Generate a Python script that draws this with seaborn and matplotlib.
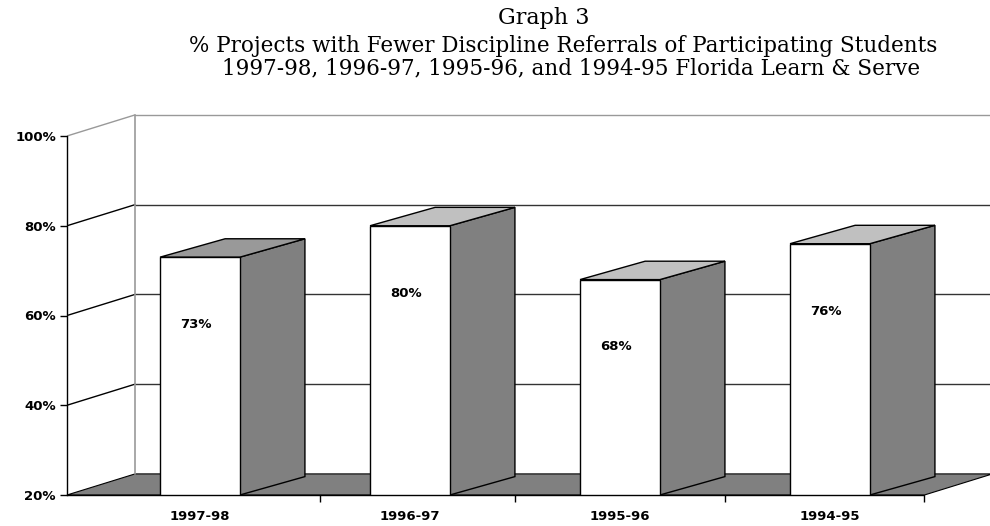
import numpy as np
import pandas as pd
import matplotlib
matplotlib.use("Agg")
import matplotlib.pyplot as plt
from matplotlib.patches import Polygon
import seaborn as sns

# data
years = ["1997-98", "1996-97", "1995-96", "1994-95"]
pct = [73, 80, 68, 76]
bar_labels = ["73%", "80%", "68%", "76%"]
ytick_vals = [20, 40, 60, 80, 100]
ytick_labels = ["20%", "40%", "60%", "80%", "100%"]

df = pd.DataFrame({"year": years, "pct": pct})

sns.set_style("white")
plt.rcParams["font.family"] = ["DejaVu Sans"]
plt.rcParams["text.color"] = "black"
plt.rcParams["xtick.color"] = "black"
plt.rcParams["ytick.color"] = "black"

fig = plt.figure(figsize=(9.9, 5.26), dpi=100)
ax = fig.add_axes([67 / 990, 31 / 526, 923 / 990, 395 / 526])

x0, x1 = -0.633, -0.633 + 923 / 210
y0, y1 = 20, 20 + 395 / 4.4875

# depth offsets (oblique projection)
wdx, wdy = 0.324, 4.7   # walls / floor
bdx, bdy = 0.31, 4.1    # bars
bw = 0.38
floor_right = 3.45

# front faces with seaborn
sns.barplot(data=df, x="year", y="pct", color="white", width=bw, edgecolor="black",
            linewidth=1.0, saturation=1, ax=ax, zorder=3)
for bar in ax.patches:
    bar.set_zorder(3)

ax.set_xlim(x0, x1)
ax.set_ylim(y0, y1)

# floor
floor = Polygon([(x0, y0), (floor_right, y0), (floor_right + wdx, y0 + wdy), (x0 + wdx, y0 + wdy)],
                closed=True, facecolor="#808080", edgecolor="black", lw=0.8, zorder=1, clip_on=False)
ax.add_patch(floor)

# side wall + back wall grid lines
for v in ytick_vals[1:]:
    c = "#999999" if v == 100 else "black"
    ax.plot([x0, x0 + wdx], [v, v + wdy], color=c, lw=1.0, zorder=1.5)
    ax.plot([x0 + wdx, x1], [v + wdy, v + wdy], color="#999999" if v == 100 else "#333333",
            lw=1.0, zorder=1.5)
ax.plot([x0 + wdx, x0 + wdx], [y0 + wdy, 100 + wdy], color="#999999", lw=1.2, zorder=1.5)

# side and top faces
for i, v in enumerate(pct):
    left, right = i - bw / 2, i + bw / 2
    side = Polygon([(right, y0), (right + bdx, y0 + bdy), (right + bdx, v + bdy), (right, v)],
                   closed=True, facecolor="#808080", edgecolor="black", lw=1.0, zorder=2.5)
    top = Polygon([(left, v), (left + bdx, v + bdy), (right + bdx, v + bdy), (right, v)],
                  closed=True, facecolor="#999999" if i == 0 else "#c0c0c0",
                  edgecolor="black", lw=1.0, zorder=2.6)
    ax.add_patch(side)
    ax.add_patch(top)
    ax.text(i - 0.02, v - 15, bar_labels[i], ha="center", va="center",
            fontsize=9.5, fontweight="bold", zorder=4)

# axes styling
for s in ["top", "right", "bottom"]:
    ax.spines[s].set_visible(False)
ax.spines["left"].set_bounds(20, 100)
ax.spines["left"].set_linewidth(1.0)
ax.spines["left"].set_color("black")
ax.spines["left"].set_zorder(5)
ax.plot([x0, floor_right], [y0, y0], color="black", lw=1.0, clip_on=False, zorder=5)

ax.set_yticks(ytick_vals)
ax.set_yticklabels(ytick_labels, fontsize=9.5, fontweight="bold")
ax.tick_params(axis="y", direction="out", length=5, width=1, pad=3, left=True)

ax.set_xticks(range(len(years)))
ax.set_xticklabels(years, fontsize=9.5, fontweight="bold")
ax.set_xticks([0.57, 1.5, 2.5, floor_right], minor=True)
ax.tick_params(axis="x", which="major", length=0, pad=11)
ax.tick_params(axis="x", which="minor", direction="out", length=5, width=1, bottom=True)
ax.set_xlabel("")
ax.set_ylabel("")

serif = ["DejaVu Serif"]
fig.text(544 / 990, 1 - 18 / 526, "Graph 3", ha="center", va="center",
         fontsize=16, family=serif)
fig.text(563 / 990, 1 - 46 / 526, "% Projects with Fewer Discipline Referrals of Participating Students",
         ha="center", va="center", fontsize=15.5, family=serif)
fig.text(571 / 990, 1 - 68 / 526, "1997-98, 1996-97, 1995-96, and 1994-95 Florida Learn & Serve",
         ha="center", va="center", fontsize=15.5, family=serif)

fig.savefig("out.png", dpi=100)
